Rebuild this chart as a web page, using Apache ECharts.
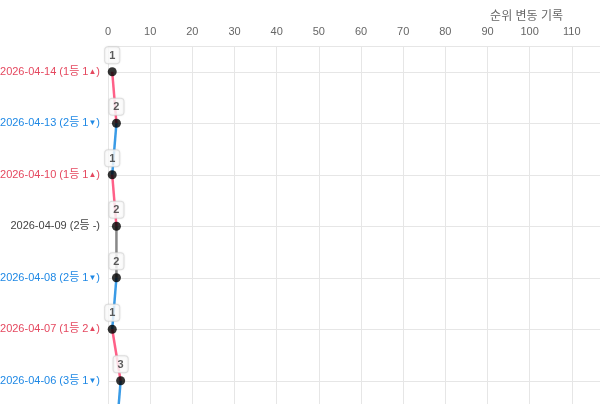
<!DOCTYPE html>
<html><head><meta charset="utf-8">
<script src="https://cdn.jsdelivr.net/npm/echarts@6/dist/echarts.min.js"></script>
<style>html,body{margin:0;padding:0;overflow:hidden;background:#fff}#c{width:640px;height:480px}</style>
</head><body><div id="c"></div>
<script>
var dates = ['2026-04-14','2026-04-13','2026-04-10','2026-04-09','2026-04-08','2026-04-07','2026-04-06','2026-04-03'];
var ranks = [1,2,1,2,2,1,3,2];
var changes = [1,-1,1,0,-1,2,-1,0];
var xTicksMax = 120, xTickStep = 10;
var axisTitle = '순위 변동 기록';

var RED='#e5485f', BLUE='#1e88e5', GRAY='#444';
var PINK='#ff6088', LBLUE='#3a9be6', LGRAY='#888';
var FONT="'Liberation Sans','Noto Sans CJK KR',sans-serif";

function catLabel(i){
  var c=changes[i];
  var k=c>0?'r':c<0?'b':'g';
  var head=dates[i]+' ('+ranks[i]+'등 ';
  if(c===0) return '{g|'+head+'-)}';
  return '{'+k+'|'+head+Math.abs(c)+'}{'+k+'s|'+(c>0?'▲':'▼')+'}{'+k+'|)}';
}
var series=[];
for(var i=0;i<dates.length-1;i++){
  var c=changes[i];
  series.push({type:'line',silent:true,symbol:'none',z:2,
    lineStyle:{width:2.5,color:c>0?PINK:c<0?LBLUE:LGRAY},
    data:[[ranks[i],dates[i]],[ranks[i+1],dates[i+1]]]});
}
series.push({type:'scatter',z:5,symbolSize:9,itemStyle:{color:'#000'},
  data:dates.map(function(d,i){return [ranks[i],d];}),
  label:{show:true,position:'top',distance:4,formatter:function(p){return p.value[0];},
    color:'#333',fontWeight:'bold',fontSize:11,fontFamily:FONT,backgroundColor:'#fff',
    borderColor:'#ddd',borderWidth:1,borderRadius:3,padding:[3,4,2,4],
    shadowColor:'rgba(0,0,0,0.1)',shadowBlur:2}});

function st(col,sz){return {color:col,fontSize:sz,fontFamily:FONT};}
var chart=echarts.init(document.getElementById('c'),null,{renderer:'canvas'});
chart.setOption({
  animation:false,
  title:{text:axisTitle,right:77,top:11,padding:0,textStyle:{fontSize:12,fontWeight:'normal',color:'#666',fontFamily:FONT}},
  grid:{left:108,right:26,top:46,bottom:22,containLabel:false,outerBoundsMode:'none'},
  xAxis:{type:'value',position:'top',min:0,max:xTicksMax,interval:xTickStep,
    axisLine:{show:true,lineStyle:{color:'#e6e6e6'}},axisTick:{show:false},
    axisLabel:{color:'#666',fontSize:11,margin:9,fontFamily:FONT},
    splitLine:{lineStyle:{color:'#e6e6e6'}}},
  yAxis:{type:'category',inverse:true,data:dates,boundaryGap:true,
    axisLine:{show:false},axisTick:{show:false},
    splitLine:{show:true,alignWithLabel:true,lineStyle:{color:'#e6e6e6'}},
    axisLabel:{margin:8,fontSize:11,fontFamily:FONT,
      formatter:function(v,idx){return catLabel(idx);},
      rich:{r:st(RED,11),rs:st(RED,8),b:st(BLUE,11),bs:st(BLUE,8),g:st(GRAY,11)}}},
  series:series
});
</script></body></html>
